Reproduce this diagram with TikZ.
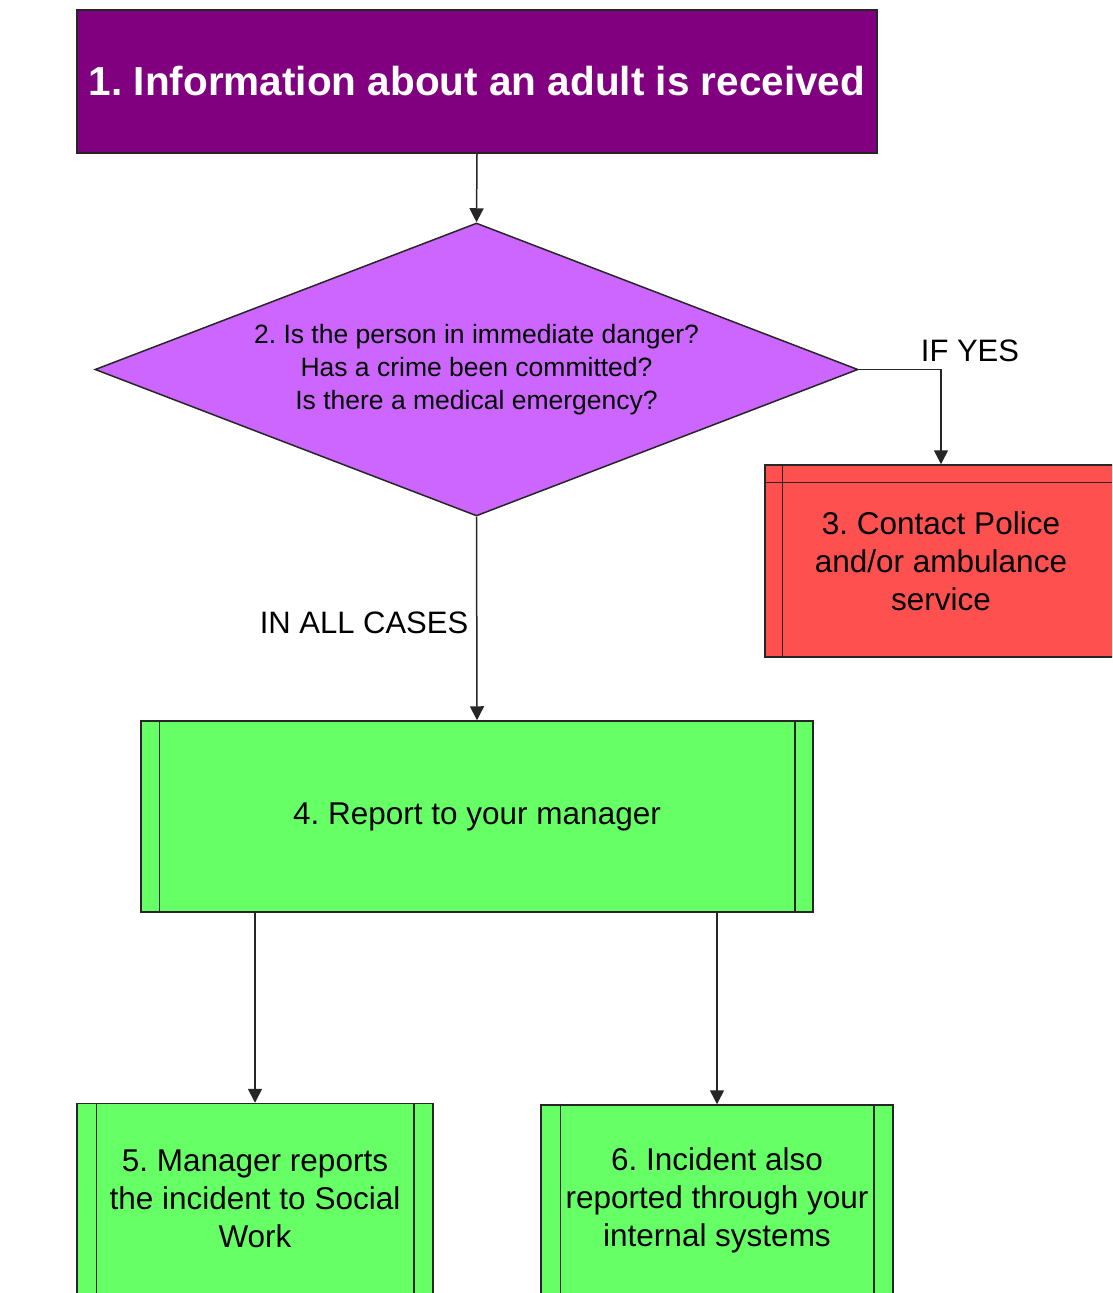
\documentclass[tikz,border=0pt]{standalone}
\usepackage{fontspec}
\setmainfont{Liberation Sans}
\usetikzlibrary{shapes.geometric,arrows.meta,calc}
\definecolor{purpleA}{HTML}{800080}
\definecolor{violetB}{HTML}{CC66FF}
\definecolor{redC}{HTML}{FF5050}
\definecolor{greenD}{HTML}{66FF66}
\tikzset{
  box/.style={draw=black!85, line width=1.5pt, rectangle, inner sep=0pt, align=center,
    font=\fontsize{31.5}{38}\selectfont},
  arr/.style={draw=black!85, line width=1.5pt, -{Triangle[length=14pt,width=14pt]}},
  lbl/.style={font=\fontsize{31}{37}\selectfont, inner sep=0pt},
  inner/.style={draw=black!85, line width=1.5pt}
}
\frenchspacing
\begin{document}
\frenchspacing
\begin{tikzpicture}[x=1pt,y=-1pt]
\useasboundingbox (0,0) rectangle (1112,1293);
\clip (0,0) rectangle (1112,1293);
\fill[white] (0,0) rectangle (1112,1293);
% 1
\node[box, fill=purpleA, minimum width=800pt, minimum height=143pt,
  text=white, font=\bfseries\fontsize{40.5}{48}\selectfont] (b1) at (477,81.5)
  {1. Information about an adult is received};
% 2
\node[draw=black!85, line width=1.5pt, diamond, fill=violetB, inner sep=0pt,
  minimum width=763pt, minimum height=293pt, aspect=2.6, align=center,
  font=\fontsize{26.5}{33}\selectfont] (d) at (476.5,369.5)
  {2. Is the person in immediate danger?\\Has a crime been committed?\\Is there a medical emergency?};
% 3
\node[box, fill=redC, minimum width=352pt, minimum height=192pt] (b3) at (941,561)
  {3. Contact Police\\and/or ambulance\\service};
\draw[inner] ([xshift=18pt]b3.north west) -- ([xshift=18pt]b3.south west);
\draw[inner] ([yshift=-18pt]b3.north west) -- ([yshift=-18pt]b3.north east);
% 4
\node[box, fill=greenD, minimum width=672pt, minimum height=191pt] (b4) at (477,816.5)
  {4. Report to your manager};
\draw[inner] ([xshift=19pt]b4.north west) -- ([xshift=19pt]b4.south west);
\draw[inner] ([xshift=-19pt]b4.north east) -- ([xshift=-19pt]b4.south east);
% 5
\node[box, fill=greenD, minimum width=356pt, minimum height=191pt] (b5) at (255,1199)
  {5. Manager reports\\the incident to Social\\Work};
\draw[inner] ([xshift=20pt]b5.north west) -- ([xshift=20pt]b5.south west);
\draw[inner] ([xshift=-20pt]b5.north east) -- ([xshift=-20pt]b5.south east);
% 6
\node[box, fill=greenD, minimum width=352pt, minimum height=191pt] (b6) at (717,1200.5)
  {6. Incident also\\reported through your\\internal systems};
\draw[inner] ([xshift=20pt]b6.north west) -- ([xshift=20pt]b6.south west);
\draw[inner] ([xshift=-20pt]b6.north east) -- ([xshift=-20pt]b6.south east);
% connectors
\draw[arr] (b1.south) -- (d.north);
\draw[arr] (d.east) -| (b3.north);
\draw[arr] (d.south) -- (b4.north);
\draw[arr] (b5.north |- b4.south) -- (b5.north);
\draw[arr] (b6.north |- b4.south) -- (b6.north);
% labels
\node[lbl] (ly) at (970,351) {IF YES};
\node[lbl] (la) at (364,623) {IN ALL CASES};
\end{tikzpicture}
\end{document}
